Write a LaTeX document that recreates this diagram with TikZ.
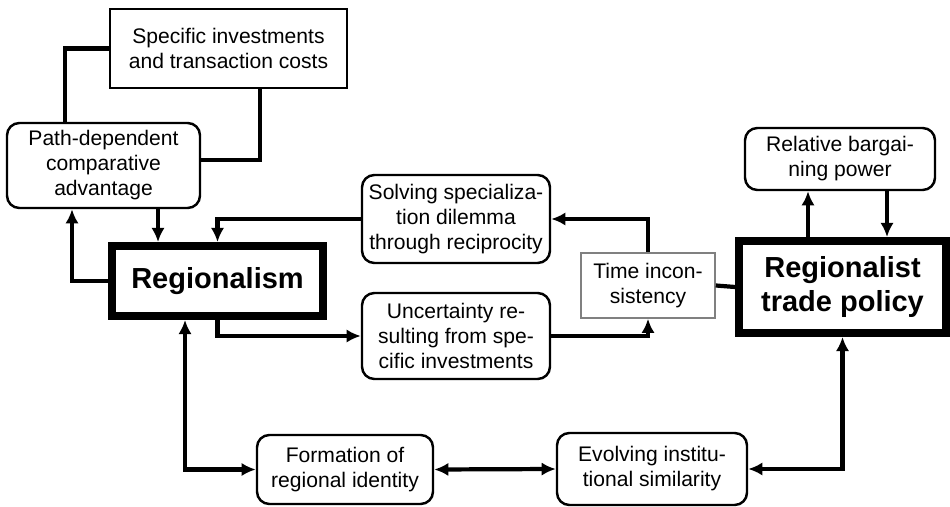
\documentclass[tikz,border=0pt]{standalone}
\usepackage{fontspec}
\setmainfont{Liberation Sans}
\usetikzlibrary{arrows.meta}

\begin{document}
\begin{tikzpicture}[font=\fontsize{12}{14.2}\selectfont,
  box/.style={draw, line width=1.4pt, rounded corners=7pt, align=center, inner sep=2pt},
  plain/.style={draw, line width=0.9pt, align=center, inner sep=2pt},
  core/.style={draw, line width=4.5pt, align=center, font=\fontsize{16.5}{19.8}\selectfont\bfseries},
  link/.style={line width=2.4pt},
  arr/.style={link, -{Latex[length=8pt,width=7.5pt]}},
  arrs/.style={link, {Latex[length=8pt,width=7.5pt]}-{Latex[length=8pt,width=7.5pt]}}]
  \useasboundingbox (0,0) rectangle (19,-10.14);
  % Boxes
  \node[plain, minimum width=4.74cm, minimum height=1.58cm] (spec) at (4.57,-0.97) {Specific investments\\and transaction costs};
  \node[box, minimum width=3.86cm, minimum height=1.7cm] (path) at (2.07,-3.31) {Path-dependent\\comparative\\advantage};
  \node[core, minimum width=4.22cm, minimum height=1.4cm] (region) at (4.35,-5.62) {Regionalism};
  \node[box, minimum width=3.76cm, minimum height=1.76cm] (solve) at (9.12,-4.38) {Solving specializa-\\tion dilemma\\through reciprocity};
  \node[box, minimum width=3.76cm, minimum height=1.72cm] (uncert) at (9.12,-6.72) {Uncertainty re-\\sulting from spe-\\cific investments};
  \node[plain, draw=gray, minimum width=2.68cm, minimum height=1.3cm] (time) at (12.96,-5.71) {Time incon-\\sistency};
  \node[core, minimum width=4.14cm, minimum height=1.84cm] (trade) at (16.85,-5.74) {Regionalist\\trade policy};
  \node[box, minimum width=3.8cm, minimum height=1.24cm] (power) at (16.8,-3.18) {Relative bargai-\\ning power};
  \node[box, minimum width=3.52cm, minimum height=1.38cm] (ident) at (6.9,-9.39) {Formation of\\regional identity};
  \node[box, minimum width=3.8cm, minimum height=1.44cm] (simil) at (13.04,-9.38) {Evolving institu-\\tional similarity};
  % Connectors
  \coordinate (pl) at ([xshift=-0.77cm]path.north);
  \coordinate (pr) at ([yshift=0.11cm]path.east);
  \coordinate (sb) at ([xshift=0.63cm]spec.south);
  \coordinate (pa) at ([xshift=-0.63cm]path.south);
  \coordinate (ra) at ([xshift=-1.19cm]region.north);
  \coordinate (rb) at ([xshift=-0.65cm]region.south);
  \coordinate (tu) at ([xshift=-0.69cm]trade.north);
  \coordinate (td) at ([xshift=0.89cm]trade.north);
  \draw[link] (spec.west) -| (pl);
  \draw[link] (sb) |- (pr);
  \draw[arr] (path.south -| ra) -- (ra);
  \draw[arr] (region.west) -| (pa);
  \draw[arr] (solve.west) -| (region.north);
  \draw[arr] (region.south) |- (uncert.west);
  \draw[arrs] (rb) |- (ident.west);
  \draw[arrs] (ident.east) -- (simil.west);
  \draw[arrs] (trade.south) |- (simil.east);
  \draw[arr] (time.north) |- (solve.east);
  \draw[arr] (uncert.east) -| (time.south);
  \draw[link] (time.east) -- (trade.west);
  \draw[arr] (tu) -- (tu |- power.south);
  \draw[arr] (power.south -| td) -- (td);
\end{tikzpicture}
\end{document}
